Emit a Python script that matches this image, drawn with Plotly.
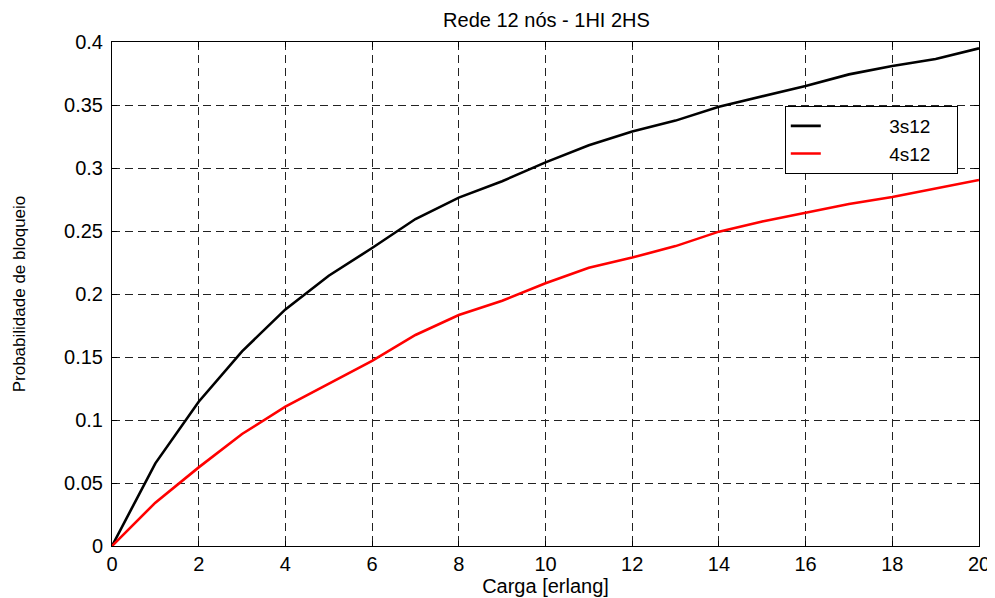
import plotly.graph_objects as go

carga = list(range(0, 21))
s3s12 = [0.0, 0.0656, 0.1145, 0.1545, 0.1878, 0.2145, 0.2365, 0.2595, 0.2765,
         0.2895, 0.3045, 0.3180, 0.3290, 0.3376, 0.3487, 0.3566, 0.3650,
         0.3743, 0.3810, 0.3865, 0.3950]
s4s12 = [0.0, 0.0344, 0.0624, 0.0889, 0.1106, 0.1290, 0.1470, 0.1675, 0.1833,
         0.1947, 0.2085, 0.2209, 0.2289, 0.2380, 0.2495, 0.2575, 0.2646,
         0.2715, 0.2770, 0.2840, 0.2905]
series_names = ["3s12", "4s12"]
series_colors = ["#000000", "#ff0000"]

xticks = list(range(0, 21, 2))
yticks = [0, 0.05, 0.1, 0.15, 0.2, 0.25, 0.3, 0.35, 0.4]
ytick_text = ["0", "0.05", "0.1", "0.15", "0.2", "0.25", "0.3", "0.35", "0.4"]

FONT = "Liberation Sans, Arial, sans-serif"
LPAD = "\u00a0" * 12
RPAD = "\u00a0" * 4

fig = go.Figure()
for name, ys, col in zip(series_names, [s3s12, s4s12], series_colors):
    fig.add_trace(go.Scatter(x=carga, y=ys, mode="lines", name=LPAD + name + RPAD,
                             line=dict(color=col, width=2.6)))

axis_common = dict(
    showline=True, linecolor="#000", linewidth=1, mirror="ticks",
    ticks="inside", ticklen=5, tickcolor="#000", tickwidth=1,
    showgrid=True, gridcolor="#222", gridwidth=1, griddash="8px,5px",
    zeroline=False, automargin=False,
    tickfont=dict(family=FONT, size=20, color="#000"),
)

fig.update_layout(
    width=987, height=590,
    margin=dict(l=104, r=16, t=34, b=52),
    paper_bgcolor="#fff", plot_bgcolor="#fff",
    title=dict(text="Rede 12 nós - 1HI 2HS", x=0.5456, xanchor="center",
               y=0.98, yanchor="middle",
               font=dict(family=FONT, size=20, color="#000")),
    xaxis=dict(range=[0, 20], tickvals=xticks, title=dict(
        text="Carga [erlang]", font=dict(family=FONT, size=20, color="#000"),
        standoff=2), **axis_common),
    yaxis=dict(range=[0, 0.4], tickvals=yticks, ticktext=ytick_text,
               ticklabelstandoff=4,
               title=dict(text="Probabilidade de bloqueio",
                          font=dict(family=FONT, size=17, color="#000"),
                          standoff=34), **axis_common),
    legend=dict(x=0.776, y=0.873, xanchor="left", yanchor="top",
                bgcolor="#fff", bordercolor="#000", borderwidth=1,
                font=dict(family=FONT, size=19, color="#000"),
                tracegroupgap=0),
    showlegend=True,
)

fig.write_html("out.html")
